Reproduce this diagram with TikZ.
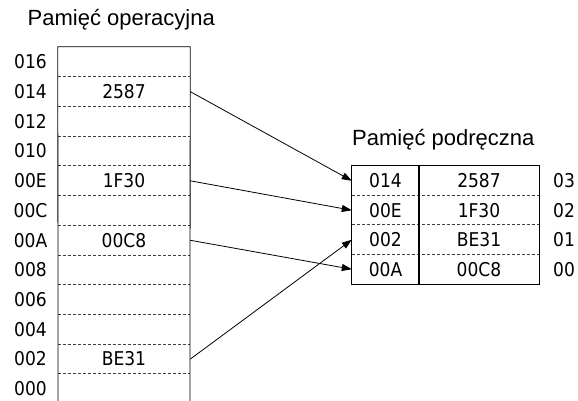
\documentclass[tikz,border=0pt]{standalone}
\usepackage{fontspec}
\setmainfont{Liberation Sans}
\newfontfamily\cellfont{DejaVu Sans Condensed}
\usetikzlibrary{arrows.meta}
\begin{document}
\begin{tikzpicture}[x=1pt,y=-1pt,
  txt/.style={inner sep=0pt, text height=13.5pt, text depth=0pt,
    font=\cellfont\fontsize{19}{19}\selectfont},
  memcell/.style={txt, minimum width=132pt, minimum height=29.73pt},
  tagcell/.style={txt, minimum width=67pt, minimum height=29.5pt},
  datacell/.style={txt, minimum width=120pt, minimum height=29.5pt},
  title/.style={inner sep=0pt, anchor=base west,
    font=\fontsize{22}{23}\selectfont},
  sep/.style={dashed, dash pattern=on 3pt off 2pt, line width=0.7pt, black!75},
  frame/.style={line width=0.8pt},
  link/.style={line width=0.8pt, -{Triangle[length=10pt,width=7pt]}}]
\useasboundingbox (0,0) rectangle (578,401);

% main memory: address / content, top row first
\foreach \a/\v [count=\i from 0] in
  {016/,014/2587,012/,010/,00E/1F30,00C/,00A/00C8,008/,006/,004/,002/BE31,000/}{
  \node[memcell] (m\a) at (124, 61.87+29.73*\i) {\v};
  \node[txt] (a\a) at (30.5, 61.87+29.73*\i) {\a};
}
\foreach \a in {014,012,010,00E,00C,00A,008,006,004,002,000}
  \draw[sep] (m\a.north west) -- (m\a.north east);
\draw[frame] (58,401) -- (m016.north west) -- (m016.north east) -- (190,401);
\node[title] (tmain) at (27.5,26) {Pamięć operacyjna};

% cache: index / tag / data
\foreach \k/\t/\v [count=\i from 0] in {03/014/2587,02/00E/1F30,01/002/BE31,00/00A/00C8}{
  \node[tagcell] (t\k) at (385.5, 180.75+29.5*\i) {\t};
  \node[datacell] (c\k) at (479, 180.75+29.5*\i) {\v};
  \node[txt] (i\k) at (564, 180.75+29.5*\i) {\k};
}
\foreach \k in {02,01,00}
  \draw[sep] (t\k.north west) -- (c\k.north east);
\draw[frame] (t03.north west) rectangle (c00.south east);
\draw[line width=1.6pt] (t03.north east) -- (t00.south east);
\node[title] (tcache) at (352,146) {Pamięć podręczna};

% transfers into the cache
\draw[link] (m014.east) -- (t03.west);
\draw[link] (m00E.east) -- (t02.west);
\draw[link] (m00A.east) -- (t00.west);
\draw[link] (m002.east) -- (t01.west);
\end{tikzpicture}
\end{document}
